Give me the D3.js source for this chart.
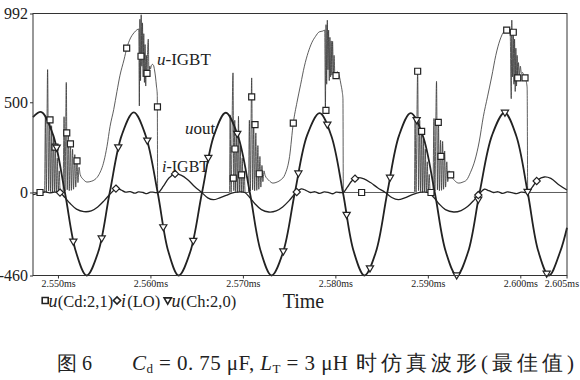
<!DOCTYPE html>
<html><head><meta charset="utf-8">
<script src="https://cdn.jsdelivr.net/npm/d3@7"></script>
<style>
html,body{margin:0;padding:0;background:#fff;}
svg{display:block;}
text{font-family:"Liberation Serif","Times New Roman",serif;fill:#222;}
</style></head><body>
<svg id="chart" width="580" height="380"></svg>
<script>
// ---------- data (time in ms) ----------
const xTicks = [2.550, 2.560, 2.570, 2.580, 2.590, 2.600, 2.605];
const yTicks = [-460, 0, 500, 992];
const legendNames = ["u(Cd:2,1)", "i(LO)", "u(Ch:2,0)"];

// u(Cd:2,1)  -> u-IGBT
const uCd = [
[2.54730,0],[2.54855,0],
[2.54864,425],[2.54874,0],[2.54888,681],[2.54899,8],[2.54910,410],[2.54920,5],[2.54931,370],[2.54941,0],[2.54952,320],[2.54962,4],[2.54972,255],[2.54982,0],[2.54993,190],[2.55003,0],[2.55014,120],[2.55024,0],[2.55055,0],
[2.55066,420],[2.55076,8],[2.55090,610],[2.55100,15],[2.55112,345],[2.55122,10],[2.55135,275],[2.55145,12],[2.55158,240],[2.55168,18],[2.55182,210],[2.55192,30],[2.55206,175],[2.55216,55],[2.55228,140],[2.55240,100],
[2.55275,72],[2.55314,58],[2.55360,62],[2.55400,72],[2.55444,100],[2.55498,175],[2.55530,255],[2.55563,365],[2.55603,460],[2.55638,560],[2.55671,650],[2.55714,735],[2.55747,805],[2.55779,850],[2.55822,885],[2.55855,902],[2.55874,906],
[2.55880,480],[2.55886,960],[2.55893,620],[2.55900,985],[2.55907,700],[2.55914,940],[2.55921,640],[2.55928,880],[2.55935,610],[2.55942,820],[2.55949,590],[2.55956,760],[2.55963,660],[2.55970,800],[2.55977,850],[2.55984,640],[2.55992,700],[2.56000,685],[2.56011,705],[2.56022,710],[2.56033,705],[2.56044,680],[2.56055,640],[2.56065,590],[2.56074,540],[2.56078,0],
[2.56855,0],
[2.56862,430],[2.56872,0],[2.56893,663],[2.56902,10],[2.56912,400],[2.56922,5],[2.56933,330],[2.56943,0],[2.56952,422],[2.56962,4],[2.56972,260],[2.56982,0],[2.56993,190],[2.57003,0],[2.57014,120],[2.57024,0],[2.57060,0],
[2.57070,400],[2.57080,8],[2.57095,635],[2.57105,15],[2.57117,380],[2.57127,10],[2.57140,330],[2.57150,12],[2.57162,260],[2.57172,18],[2.57184,200],[2.57194,30],[2.57206,150],[2.57216,60],[2.57228,120],[2.57240,95],
[2.57280,68],[2.57325,52],[2.57370,58],[2.57410,70],[2.57455,100],[2.57505,200],[2.57545,385],[2.57585,500],[2.57625,600],[2.57665,700],[2.57705,775],[2.57745,830],[2.57785,865],[2.57825,890],[2.57865,895],
[2.57885,900],[2.57892,455],[2.57899,930],[2.57906,600],[2.57913,955],[2.57920,680],[2.57927,900],[2.57934,620],[2.57941,860],[2.57948,640],[2.57955,840],[2.57962,650],[2.57970,838],[2.57978,660],[2.57986,760],[2.57995,650],[2.58007,660],[2.58020,670],[2.58031,663],[2.58045,640],[2.58060,600],[2.58075,555],[2.58082,520],[2.58086,0],
[2.58855,0],
[2.58862,420],[2.58872,0],[2.58890,672],[2.58900,10],[2.58912,400],[2.58922,5],[2.58933,345],[2.58943,0],[2.58953,300],[2.58963,4],[2.58973,240],[2.58983,0],[2.58994,170],[2.59004,0],[2.59015,100],[2.59025,0],[2.59055,0],
[2.59066,410],[2.59076,8],[2.59094,616],[2.59104,15],[2.59115,390],[2.59125,10],[2.59138,290],[2.59148,12],[2.59160,283],[2.59170,18],[2.59182,230],[2.59192,30],[2.59205,170],[2.59215,60],[2.59230,120],[2.59247,98],
[2.59290,66],[2.59335,52],[2.59380,58],[2.59420,70],[2.59460,110],[2.59510,180],[2.59555,280],[2.59600,420],[2.59645,530],[2.59690,640],[2.59735,760],[2.59780,845],[2.59825,892],[2.59860,900],[2.59890,896],
[2.59902,520],[2.59908,955],[2.59915,640],[2.59924,888],[2.59931,600],[2.59938,850],[2.59945,560],[2.59952,800],[2.59959,590],[2.59966,760],[2.59972,635],[2.59980,720],[2.59990,650],[2.60000,700],[2.60012,660],[2.60025,665],[2.60040,640],[2.60051,635],[2.60062,620],[2.60074,580],[2.60080,0],
[2.60505,0]
];

// u(Ch:2,0) -> uout
const uCh = [
[2.54730,418],[2.54820,446],[2.54948,318],[2.55075,0],[2.55193,-326],[2.55310,-460],[2.55435,-330],[2.55560,0],[2.55690,318],
[2.55820,444],[2.55948,316],[2.56078,0],[2.56193,-326],[2.56305,-460],[2.56430,-330],[2.56558,0],[2.56688,318],
[2.56815,442],[2.56945,316],[2.57075,0],[2.57193,-326],[2.57310,-460],[2.57435,-330],[2.57562,0],[2.57695,318],
[2.57830,440],[2.57955,316],[2.58082,0],[2.58198,-326],[2.58315,-460],[2.58438,-330],[2.58562,0],[2.58690,318],
[2.58815,440],[2.58945,316],[2.59075,0],[2.59193,-326],[2.59312,-460],[2.59435,-330],[2.59560,0],[2.59695,318],
[2.59830,442],[2.59955,316],[2.60080,0],[2.60195,-326],[2.60310,-460],[2.60430,-330],[2.60505,-195]
];

// i(LO) -> i-IGBT
const iLO = [
[2.54730,-12],[2.54770,-6],[2.54810,-2],[2.54860,3],[2.54910,-2],[2.54960,2],[2.55020,0],[2.55070,-25],[2.55130,-60],[2.55200,-92],[2.55280,-106],[2.55360,-102],[2.55430,-80],[2.55500,-45],[2.55570,-5],[2.55630,22],[2.55680,15],[2.55730,2],[2.55780,5],[2.55830,-4],[2.55870,3],[2.55920,0],[2.55960,-6],[2.56000,2],[2.56040,1],[2.56085,0],
[2.56140,35],[2.56200,80],[2.56265,103],[2.56330,96],[2.56400,72],[2.56480,32],[2.56555,0],[2.56620,-30],[2.56680,-40],[2.56750,-30],[2.56820,-16],[2.56880,-4],[2.56940,2],[2.57020,0],
[2.57070,-25],[2.57130,-62],[2.57200,-95],[2.57280,-108],[2.57360,-102],[2.57430,-80],[2.57500,-45],[2.57570,-3],[2.57630,20],[2.57680,12],[2.57730,0],[2.57780,4],[2.57830,-5],[2.57880,3],[2.57930,-1],[2.57970,-7],[2.58010,2],[2.58050,0],[2.58085,0],
[2.58130,30],[2.58180,65],[2.58240,82],[2.58310,75],[2.58380,55],[2.58460,25],[2.58540,0],[2.58610,-28],[2.58680,-40],[2.58750,-30],[2.58820,-14],[2.58880,-3],[2.58940,2],[2.59000,0],
[2.59060,-25],[2.59120,-62],[2.59190,-95],[2.59280,-108],[2.59360,-100],[2.59430,-78],[2.59500,-42],[2.59550,-12],[2.59610,18],[2.59660,10],[2.59710,0],[2.59760,4],[2.59810,-5],[2.59860,3],[2.59910,-1],[2.59960,-6],[2.60010,2],[2.60080,0],
[2.60130,30],[2.60190,70],[2.60260,86],[2.60330,78],[2.60420,42],[2.60505,14]
];

// marker readings
const sqMarks = [[2.54806,0],[2.54914,403],[2.54968,252],[2.55095,330],[2.55135,270],[2.55206,175],[2.55743,800],[2.55898,755],[2.55963,660],[2.56076,474],
[2.56896,80],[2.56914,241],[2.56986,98],[2.57095,530],[2.57131,376],[2.57177,104],[2.57545,385],[2.57898,455],[2.58007,648],[2.58284,0],
[2.58890,672],[2.58933,339],[2.59034,0],[2.59113,389],[2.59142,200],[2.59247,98],[2.59853,900],[2.59924,888],[2.59972,635],[2.60051,635]];
const triTimes = [2.54986,2.55166,2.55473,2.55652,2.55966,2.56139,2.56463,2.56626,2.56939,2.57437,2.57600,2.57913,2.58122,2.58374,2.58591,2.58879,2.59312,2.59545,2.59834,2.60079,2.60285];
const diaTimes = [2.55022,2.55627,2.56266,2.57582,2.58212,2.59546,2.60177];

// ---------- drawing ----------
const svg = d3.select("#chart");
const L = 33, R = 567, T = 13.5, B = 275.5;
const x = d3.scaleLinear().domain([2.5473, 2.60505]).range([L, R]);
const y = d3.scaleLinear().domain([-460, 992]).range([B, T]);
const ink = "#222";

svg.append("rect").attr("width",580).attr("height",380).attr("fill","#fff");

const plot = svg.append("g");
const lineSmooth = d3.line().x(d=>x(d[0])).y(d=>y(d[1])).curve(d3.curveCatmullRom.alpha(0.5));
const lineSharp = d3.line().x(d=>x(d[0])).y(d=>y(d[1])).curve(d3.curveMonotoneX);

const pCd = plot.append("path").datum(uCd).attr("d", lineSharp)
  .attr("fill","none").attr("stroke","#333").attr("stroke-width",0.8).attr("stroke-linejoin","round");
const pLO = plot.append("path").datum(iLO).attr("d", lineSmooth)
  .attr("fill","none").attr("stroke",ink).attr("stroke-width",1.3);
const pCh = plot.append("path").datum(uCh).attr("d", lineSmooth)
  .attr("fill","none").attr("stroke",ink).attr("stroke-width",1.8);

function yOnPath(node, px){
  const len = node.getTotalLength();
  let lo=0, hi=len;
  for(let i=0;i<40;i++){
    const mid=(lo+hi)/2;
    if(node.getPointAtLength(mid).x < px) lo=mid; else hi=mid;
  }
  return node.getPointAtLength((lo+hi)/2).y;
}

const symSq = "M-3,-3H3V3H-3Z";
const symTri = "M-3.6,-2.6H3.6L0,3.6Z";
const symDia = "M0,-3.6L3.6,0L0,3.6L-3.6,0Z";

plot.selectAll(".sq").data(sqMarks).join("path").attr("class","sq")
  .attr("d",symSq).attr("transform",d=>`translate(${x(d[0])},${y(d[1])})`)
  .attr("fill","#fff").attr("stroke",ink).attr("stroke-width",1.2);
plot.selectAll(".tri").data(triTimes).join("path").attr("class","tri")
  .attr("d",symTri).attr("transform",d=>`translate(${x(d)},${yOnPath(pCh.node(),x(d))})`)
  .attr("fill","#fff").attr("stroke",ink).attr("stroke-width",1.2);
plot.selectAll(".dia").data(diaTimes).join("path").attr("class","dia")
  .attr("d",symDia).attr("transform",d=>`translate(${x(d)},${yOnPath(pLO.node(),x(d))})`)
  .attr("fill","#fff").attr("stroke",ink).attr("stroke-width",1.2);

// frame
svg.append("rect").attr("x",L).attr("y",T).attr("width",R-L).attr("height",B-T)
  .attr("fill","none").attr("stroke","#333").attr("stroke-width",1);

// axes
const gx = svg.append("g").attr("transform",`translate(0,${B})`)
  .call(d3.axisBottom(x).tickValues(xTicks).tickSize(3).tickPadding(1).tickFormat(d=>d.toFixed(3)+"ms"));
gx.select(".domain").remove();
gx.selectAll("line").attr("stroke","#333");
gx.selectAll("text").attr("font-family","Liberation Serif, serif").attr("font-size",10).attr("fill",ink);
gx.selectAll(".tick").filter(d=>d===2.605).select("text").attr("text-anchor","end").attr("x",12);

const gy = svg.append("g").attr("transform",`translate(${L},0)`)
  .call(d3.axisLeft(y).tickValues(yTicks).tickSize(3).tickPadding(2).tickFormat(d=>String(d)));
gy.select(".domain").remove();
gy.selectAll("line").attr("stroke","#333");
gy.selectAll("text").attr("font-family","Liberation Serif, serif").attr("font-size",16).attr("fill",ink);

// in-plot labels
function lab(xp, yp, it, rest, fs){
  const t = svg.append("text").attr("x",xp).attr("y",yp).attr("font-size",fs);
  t.append("tspan").attr("font-style","italic").text(it);
  t.append("tspan").text(rest);
}
lab(157, 65, "u", "-IGBT", 17);
lab(185, 134, "u", "out", 17);
lab(162, 172, "i", "-IGBT", 16);

// legend
const lg = svg.append("g");
const ly = 306.5;
lg.append("path").attr("d",symSq).attr("transform",`translate(45.2,${ly-6})`).attr("fill","#fff").attr("stroke",ink).attr("stroke-width",1.6);
lg.append("path").attr("d",symDia).attr("transform",`translate(117,${ly-6})`).attr("fill","#fff").attr("stroke",ink).attr("stroke-width",1.6);
lg.append("path").attr("d",symTri).attr("transform",`translate(167.7,${ly-6})`).attr("fill","#fff").attr("stroke",ink).attr("stroke-width",1.6);
function legTxt(x0, name, adv){
  lg.append("text").attr("x",x0).attr("y",ly).attr("font-size",18).attr("font-style","italic").text(name[0]);
  lg.append("text").attr("x",x0+adv).attr("y",ly).attr("font-size",16.5).text(name.slice(1));
}
legTxt(48.5, legendNames[0], 9.2);
legTxt(121, legendNames[1], 6.2);
legTxt(171.5, legendNames[2], 9.2);
svg.append("text").attr("x",282.7).attr("y",308).attr("font-size",20).text("Time");

// caption
svg.append("text").attr("x",57).attr("y",370).attr("font-size",20)
  .attr("font-family","Liberation Serif, Noto Sans CJK SC, serif").text("图 6");
const cap = svg.append("text").attr("x",132).attr("y",370).attr("font-size",21)
  .attr("textLength",216).attr("lengthAdjust","spacing");
cap.append("tspan").attr("font-style","italic").text("C");
cap.append("tspan").attr("font-size",13).attr("dy",3).text("d");
cap.append("tspan").attr("dy",-3).text(" = 0. 75 μF, ");
cap.append("tspan").attr("font-style","italic").text("L");
cap.append("tspan").attr("font-size",13).attr("dy",3).text("T");
cap.append("tspan").attr("dy",-3).text(" = 3 μH");
svg.append("text").attr("x",356).attr("y",370).attr("font-size",21)
  .attr("font-family","Noto Sans CJK SC, sans-serif")
  .attr("textLength",218).attr("lengthAdjust","spacing").text("时仿真波形(最佳值)");
</script>
</body></html>
